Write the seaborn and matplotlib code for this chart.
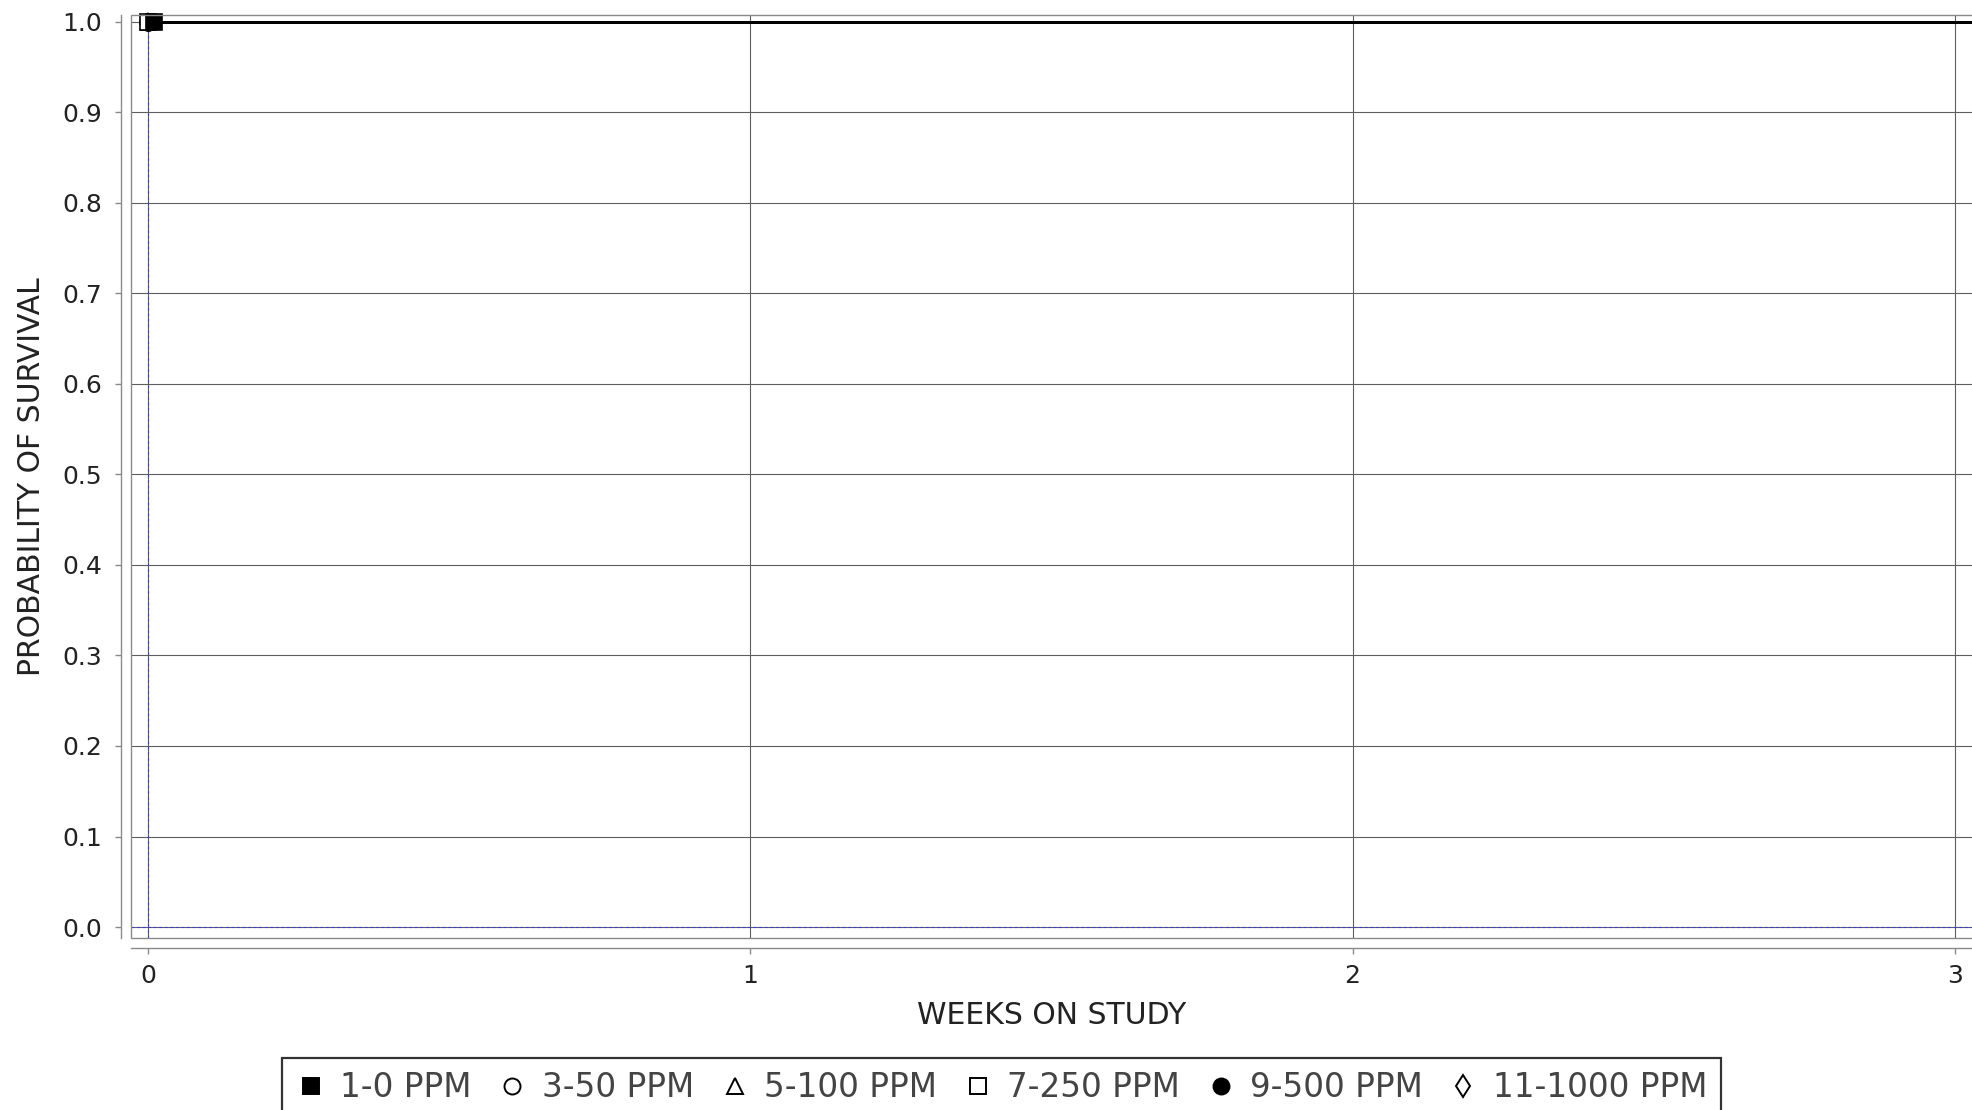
import numpy as np
import pandas as pd
import matplotlib
matplotlib.use("Agg")
import matplotlib.pyplot as plt
from matplotlib.lines import Line2D
from matplotlib.patches import Rectangle
import seaborn as sns

# dose groups and their legend markers
groups = ["1-0 PPM", "3-50 PPM", "5-100 PPM", "7-250 PPM", "9-500 PPM", "11-1000 PPM"]
markers = ["s", "o", "^", "s", "o", "d"]
filled = [True, False, False, False, True, False]

# Kaplan-Meier steps: every group stays at 1.0 over the whole study
weeks = [0.0, 3.1]
survival = [1.0, 1.0]
# first-point marker positions (weeks) for each group
marker_week = [0.01, 0.0, 0.0, 0.0, 0.0, 0.0]

x_ticks = [0, 1, 2, 3]
y_ticks = [0.0, 0.1, 0.2, 0.3, 0.4, 0.5, 0.6, 0.7, 0.8, 0.9, 1.0]
y_labels = [f"{v:.1f}" for v in y_ticks]

rows = []
for g in groups:
    for w, s in zip(weeks, survival):
        rows.append({"group": g, "week": w, "surv": s})
df = pd.DataFrame(rows)

sns.set_theme(style="white")
plt.rcParams["font.family"] = ["DejaVu Sans"]

W, H = 1972, 1110
fig = plt.figure(figsize=(W / 100, H / 100), dpi=100)
ax = fig.add_axes([131 / W, 1 - 938 / H, (1973 - 131) / W, (938 - 15) / H])

grid_c = "#5e5e5e"
for xt in x_ticks:
    ax.axvline(xt, color=grid_c, lw=0.8, zorder=1)
for yt in y_ticks:
    ax.axhline(yt, color=grid_c, lw=0.8, zorder=1)

# blue dashed reference lines at the origin
ax.axvline(0, color="#3a3ae0", lw=0.8, ls=(0, (2.5, 2.5)), zorder=2)
ax.axhline(0, color="#3a3ae0", lw=0.8, ls=(0, (2.5, 2.5)), zorder=2)

sns.lineplot(data=df, x="week", y="surv", hue="group", palette=["black"] * len(groups),
             estimator=None, legend=False, lw=1.8, ax=ax, zorder=3)

order = [5, 1, 2, 4, 3, 0]
for i in order:
    size = 9 if markers[i] == "d" else 12
    ax.plot(marker_week[i], survival[0], marker=markers[i], ms=size,
            mfc="black" if filled[i] else "white", mec="black", mew=1.2,
            ls="none", zorder=4, clip_on=False)

ax.set_xlim(-0.0282, 3.030)
ax.set_ylim(-0.01215, 1.0077)
ax.set_xticks(x_ticks)
ax.set_xticklabels([str(t) for t in x_ticks])
ax.set_yticks(y_ticks)
ax.set_yticklabels(y_labels)

for side in ["top", "right"]:
    ax.spines[side].set_visible(False)
for side in ["left", "bottom"]:
    ax.spines[side].set_position(("outward", 7.2))
    ax.spines[side].set_color("#8a8a8a")
    ax.spines[side].set_linewidth(1.0)

# plot outline
ax.add_patch(Rectangle((0, 0), 1, 1, transform=ax.transAxes, fill=False,
                       ec="#8a8a8a", lw=1.0, clip_on=False, zorder=5))

ax.tick_params(axis="both", which="major", length=4.3, width=1.0, color="#8a8a8a",
               labelsize=18, labelcolor="#222222", bottom=True, left=True)
ax.tick_params(axis="x", pad=7)
ax.tick_params(axis="y", pad=9.4)

ax.set_xlabel("WEEKS ON STUDY", fontsize=21.5, color="#222222", labelpad=9.4)
ax.set_ylabel("PROBABILITY OF SURVIVAL", fontsize=21.5, color="#222222", labelpad=11.5)

handles = []
for g, m, f in zip(groups, markers, filled):
    handles.append(Line2D([], [], ls="none", marker=m, ms=12 if m == "s" else 11.5,
                          mfc="black" if f else "white", mec="black", mew=1.4, label=g))
leg = fig.legend(handles=handles, loc="upper left", bbox_to_anchor=(282 / W, 1 - 1058 / H),
                 ncol=6, fontsize=23.5, frameon=True, fancybox=False, borderpad=0.41,
                 handlelength=0.94, handletextpad=0.44, columnspacing=0.77,
                 borderaxespad=0)
leg.get_frame().set_edgecolor("black")
leg.get_frame().set_linewidth(1.6)
for t in leg.get_texts():
    t.set_color("#444444")

fig.savefig("out.png", dpi=100)
